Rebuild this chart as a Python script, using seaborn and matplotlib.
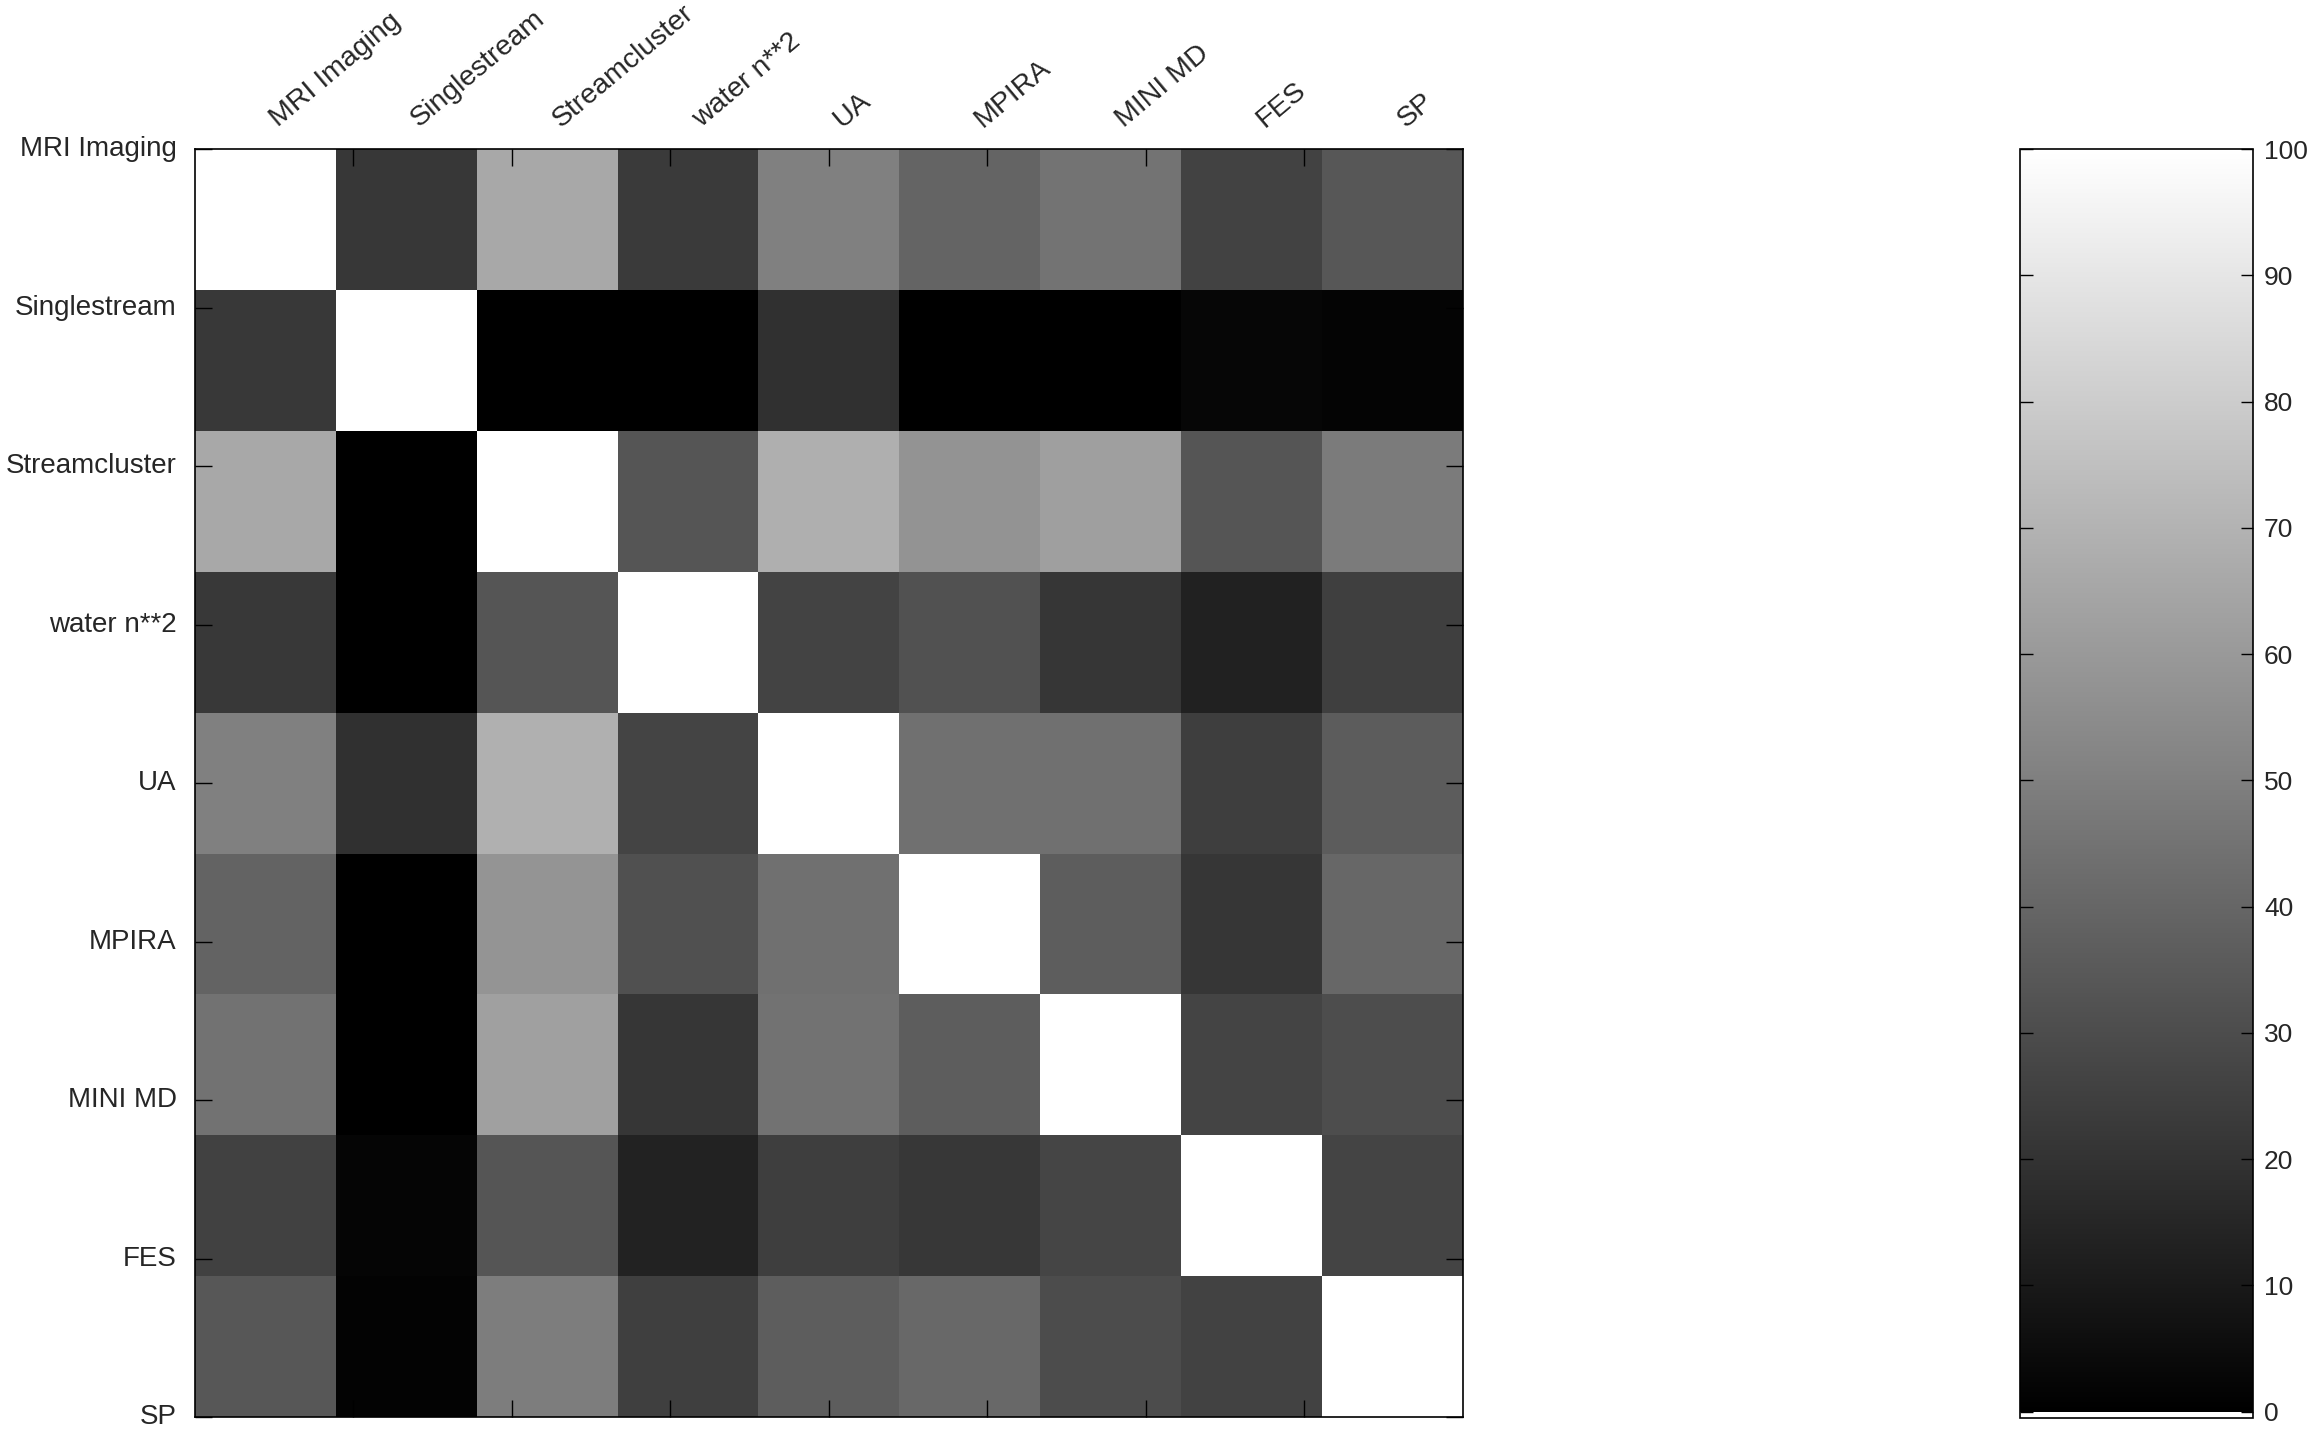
import numpy as np
import pandas as pd
import matplotlib
matplotlib.use('Agg')
import matplotlib.pyplot as plt
import seaborn as sns

benchmarks = ['MRI Imaging', 'Singlestream', 'Streamcluster', 'water n**2',
              'UA', 'MPIRA', 'MINI MD', 'FES', 'SP']

# similarity values (0-100), one list per row
mri_imaging   = [100, 21.6, 65.9, 22.7, 50.2, 39.2, 45.1, 25.9, 34.1]
singlestream  = [22.0, 100, 0.0, 0.0, 18.8, 0.0, 0.0, 2.4, 1.6]
streamcluster = [65.9, 0.0, 100, 33.3, 68.6, 57.6, 62.4, 33.3, 48.2]
water_n2      = [22.0, 0.0, 33.3, 100, 26.3, 31.8, 21.2, 12.9, 24.7]
ua            = [50.2, 18.8, 69.0, 26.7, 100, 43.9, 43.9, 24.3, 36.1]
mpira         = [38.8, 0.0, 58.0, 31.4, 43.9, 100, 36.5, 21.2, 40.4]
mini_md       = [44.7, 0.0, 62.7, 21.2, 44.7, 36.5, 100, 26.7, 30.2]
fes           = [25.5, 2.0, 33.3, 13.3, 24.3, 21.6, 27.1, 100, 26.7]
sp            = [34.1, 1.2, 49.0, 24.7, 36.5, 40.8, 29.8, 25.9, 100]

cbar_ticks = [0, 10, 20, 30, 40, 50, 60, 70, 80, 90, 100]

df = pd.DataFrame([mri_imaging, singlestream, streamcluster, water_n2, ua,
                   mpira, mini_md, fes, sp], index=benchmarks, columns=benchmarks)

sns.set_style('white')
plt.rcParams['font.family'] = ['Liberation Sans', 'DejaVu Sans']

fig = plt.figure(figsize=(23.15, 14.35), dpi=100)
ax = fig.add_axes([0.0842, 0.0125, 0.5477, 0.8836])
cax = fig.add_axes([0.8726, 0.0118, 0.1006, 0.8843])

sns.heatmap(df, cmap='gray', vmin=0, vmax=100, ax=ax, cbar_ax=cax,
            xticklabels=True, yticklabels=True)

n = len(benchmarks)
grid_pos = np.linspace(0, n, n)

# x labels on top, a bit right of the cell centres, rotated
ax.set_xticks(np.arange(n) + 0.62)
ax.set_xticklabels(benchmarks, rotation=40, ha='left', va='bottom',
                   rotation_mode='anchor', fontsize=20.5)
ax.xaxis.tick_top()
ax.tick_params(axis='x', which='major', length=0, pad=12, top=True, bottom=False,
               labeltop=True, labelbottom=False)
ax.set_xticks(grid_pos[1:-1], minor=True)
ax.tick_params(axis='x', which='minor', direction='in', length=12, width=1,
               top=True, bottom=True, color='black')

# y labels at evenly spread positions
ax.set_yticks(grid_pos)
ax.set_yticklabels(benchmarks, rotation=0, fontsize=20)
ax.tick_params(axis='y', which='major', direction='in', length=12, width=1,
               left=True, right=True, pad=13, color='black')

ax.set_xlabel('')
ax.set_ylabel('')
ax.set_axisbelow(False)
for s in ax.spines.values():
    s.set_visible(True)
    s.set_color('black')
    s.set_linewidth(1.2)

cbar = ax.collections[0].colorbar
cbar.set_ticks(cbar_ticks)
cbar.ax.set_axisbelow(False)
cbar.ax.tick_params(direction='in', length=9, width=1, left=True, right=True,
                    labelsize=19, pad=8, color='black')
cbar.outline.set_edgecolor('black')
cbar.outline.set_linewidth(1.2)
cbar.ax.set_ylim(-0.5, 100)

fig.savefig('out.png', dpi=100)
